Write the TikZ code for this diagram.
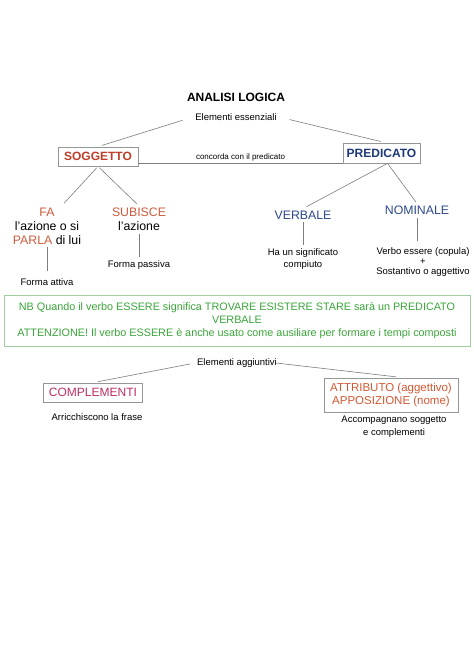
\documentclass[tikz,border=0pt]{standalone}
\usepackage{fontspec}
\setmainfont{Liberation Sans}
\usetikzlibrary{positioning}
\definecolor{soggred}{RGB}{190,62,42}
\definecolor{farred}{RGB}{205,92,62}
\definecolor{predblue}{RGB}{30,55,120}
\definecolor{verbblue}{RGB}{45,72,140}
\definecolor{nbgreen}{RGB}{58,165,58}
\definecolor{nbframe}{RGB}{160,205,160}
\definecolor{complred}{RGB}{190,45,100}
\definecolor{attrred}{RGB}{212,88,52}
\definecolor{boxgray}{RGB}{150,150,150}
\definecolor{linegray}{RGB}{125,125,125}
\newcommand{\bigtxt}{\fontsize{12.3}{14}\selectfont}
\newcommand{\smalltxt}{\fontsize{9.5}{12}\selectfont}
\tikzstyle{mainbox} = [rectangle, 
draw=boxgray, 
line width=0.7pt,
minimum height=19pt,
text centered]
\tikzstyle{txt} = [align=center, 
inner sep=2pt]
\tikzstyle{nbbox} = [rectangle, 
draw=nbframe, 
line width=0.8pt,
minimum width=466pt, 
minimum height=51pt,
text=nbgreen, 
align=center]
\tikzstyle{link} = [draw=linegray, line width=0.6pt]

\begin{document}
\begin{tikzpicture}[node distance=20pt]
\fill[white] (0,0) rectangle (474pt,-670pt);
\useasboundingbox (0,0) rectangle (474pt,-670pt);

\node (title) at (236pt,-97pt) [txt, font=\bfseries\fontsize{12}{14}\selectfont] {ANALISI LOGICA};

\node (ess) [txt, below of=title, font=\smalltxt] {Elementi essenziali};

\node (sogg) [mainbox, below of=ess, minimum width=80pt, xshift=-138pt, yshift=-19.5pt, text=soggred, font=\bfseries\fontsize{12}{14}\selectfont] {SOGGETTO};

\node (pred) [mainbox, below of=ess, minimum width=77pt, minimum height=20pt, xshift=145.5pt, yshift=-16pt, text=predblue, font=\bfseries\fontsize{12}{14}\selectfont] {PREDICATO};

\node (fa) [txt, below of=sogg, xshift=-51pt, yshift=-49.5pt, font=\bigtxt] {{\color{farred}FA}\\ l'azione o si\\ {\color{farred}PARLA} di lui};

\node (sub) [txt, below of=sogg, xshift=41pt, yshift=-43pt, font=\bigtxt] {{\color{farred}SUBISCE}\\ l'azione};

\node (attiva) [txt, below of=fa, yshift=-36pt, font=\smalltxt] {Forma attiva};

\node (passiva) [txt, below of=sub, yshift=-25.5pt, font=\smalltxt] {Forma passiva};

\node (verb) [txt, below of=pred, xshift=-78.5pt, yshift=-42pt, text=verbblue, font=\bigtxt] {VERBALE};

\node (nom) [txt, below of=pred, xshift=35.5pt, yshift=-37pt, text=verbblue, font=\bigtxt] {NOMINALE};

\node (sign) [txt, below of=verb, yshift=-24pt, font=\smalltxt] {Ha un significato\\ compiuto};

\node (cop) [txt, below of=nom, xshift=6pt, yshift=-32pt, font=\fontsize{9.5}{10}\selectfont] {Verbo essere (copula)\\ +\\ Sostantivo o aggettivo};

\node (nb) [nbbox, below of=title, xshift=1pt, yshift=-203.5pt, font=\fontsize{10.8}{13}\selectfont] {NB Quando il verbo ESSERE significa TROVARE ESISTERE STARE sarà un PREDICATO\\ VERBALE\\ ATTENZIONE! Il verbo ESSERE è anche usato come ausiliare per formare i tempi composti};

\node (agg) [txt, below of=nb, yshift=-22.5pt, font=\smalltxt] {Elementi aggiuntivi};

\node (compl) [mainbox, below of=agg, minimum width=99pt, xshift=-144pt, yshift=-9.5pt, text=complred, font=\fontsize{12}{14}\selectfont] {COMPLEMENTI};

\node (attr) [mainbox, below of=agg, minimum width=134pt, minimum height=34pt, align=center, xshift=154pt, yshift=-12pt, text=attrred, font=\fontsize{11.5}{13.5}\selectfont] {ATTRIBUTO (aggettivo)\\ APPOSIZIONE (nome)};

\node (arr) [txt, below of=compl, xshift=4pt, yshift=-4.5pt, font=\smalltxt] {Arricchiscono la frase};

\node (acc) [txt, below of=attr, xshift=3pt, yshift=-11.5pt, font=\fontsize{9.5}{13}\selectfont] {Accompagnano soggetto\\ e complementi};

\draw [link, shorten <=11pt, shorten >=4pt] (ess.west) -- (sogg.north);
\draw [link, shorten <=11pt, shorten >=5pt] (ess.east) -- ([xshift=4pt]pred.north);
\draw [link] ([yshift=-6.5pt]sogg.east) -- ([yshift=-6.5pt]sogg.east -| pred.west) node[midway, above, txt, font=\fontsize{8}{10}\selectfont] {concorda con il predicato};
\draw [link, shorten <=2pt, shorten >=3pt] (sogg.south) -- ([xshift=15pt]fa.north);
\draw [link, shorten <=2pt, shorten >=3pt] (sogg.south) -- (sub.north);
\draw [link, shorten >=4pt] ([xshift=6pt]pred.south) -- (verb.north);
\draw [link, shorten >=2pt] ([xshift=6pt]pred.south) -- (nom.north);
\draw [link, shorten <=1pt, shorten >=5pt] (fa.south) -- (attiva.north);
\draw [link, shorten <=1pt, shorten >=1pt] (sub.south) -- (passiva.north);
\draw [link, shorten <=1pt, shorten >=1pt] (verb.south) -- (sign.north);
\draw [link, shorten <=1pt, shorten >=4pt] (nom.south) -- (nom.south |- cop.north);
\draw [link, shorten <=5pt, shorten >=5pt] (agg.west) -- (compl.north);
\draw [link, shorten >=7pt] ([xshift=-3pt]agg.east) -- ([xshift=12pt]attr.north);
\end{tikzpicture}
\end{document}
